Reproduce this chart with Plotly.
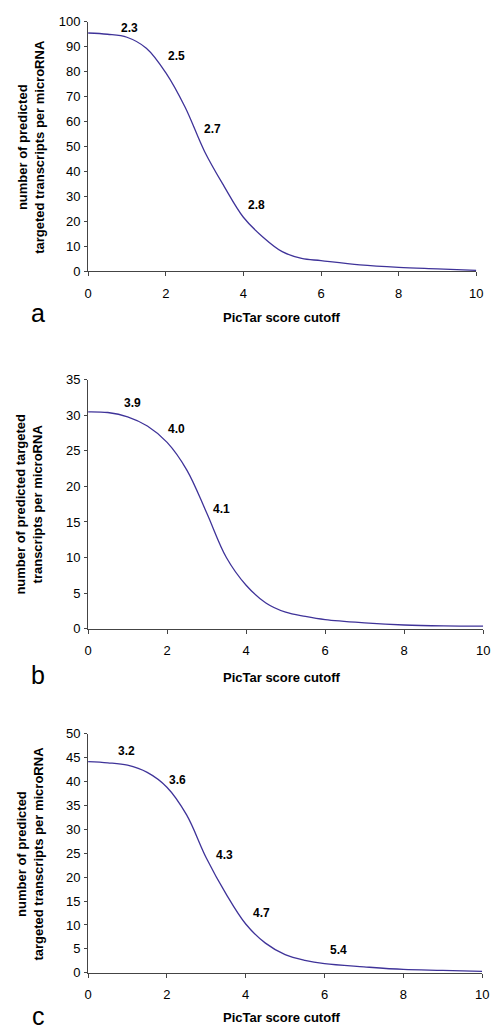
import plotly.graph_objects as go

W, H = 497, 1034

# ---- data ----
x_cut = [0, 0.5, 1, 1.5, 2, 2.5, 3, 3.5, 4, 4.5, 5, 5.5, 6, 7, 8, 9, 10]
y_a = [95.5, 95.0, 93.8, 89.4, 79.6, 65.7, 48.0, 34.1, 21.6, 13.7, 7.8, 5.1, 4.2, 2.5, 1.5, 0.9, 0.3]
y_b = [30.5, 30.4, 29.8, 28.5, 26.2, 22.3, 16.3, 10.0, 6.1, 3.6, 2.3, 1.7, 1.25, 0.8, 0.5, 0.37, 0.33]
y_c = [44.15, 43.9, 43.4, 41.9, 38.8, 33.0, 24.0, 16.5, 10.2, 6.2, 3.8, 2.6, 1.9, 1.24, 0.7, 0.5, 0.28]

lab_a_text = ["2.3", "2.5", "2.7", "2.8"]
lab_a_x = [1.06, 2.29, 3.2, 4.33]
lab_a_y = [97.6, 86.2, 56.9, 26.5]

lab_b_text = ["3.9", "4.0", "4.1"]
lab_b_x = [1.13, 2.24, 3.38]
lab_b_y = [31.8, 28.1, 16.8]

lab_c_text = ["3.2", "3.6", "4.3", "4.7", "5.4"]
lab_c_x = [0.98, 2.28, 3.46, 4.41, 6.35]
lab_c_y = [46.4, 40.4, 24.6, 12.4, 4.7]

y_title_a = "number of predicted<br>targeted transcripts per microRNA"
y_title_b = "number of predicted targeted<br>transcripts per microRNA"
y_title_c = "number of predicted<br>targeted transcripts per microRNA"
x_title = "PicTar score cutoff"
panel_letters = ["a", "b", "c"]

FONT = "Liberation Sans, Arial, sans-serif"
LINE_COLOR = "#3f3399"
AXIS_COLOR = "#444444"

# pixel layout of plotting areas: (x0, x1, ytop, ybottom)
panels = [
    dict(box=(86, 483, 15, 268), y=y_a, yr=[0, 100], dt=10,
         lt=lab_a_text, lx=lab_a_x, ly=lab_a_y, yt=y_title_a, ytx=28,
         xtitle_y=315, letter_y=311, letter=panel_letters[0]),
    dict(box=(86, 490, 378.3, 630.7), y=y_b, yr=[0, 35], dt=5,
         lt=lab_b_text, lx=lab_b_x, ly=lab_b_y, yt=y_title_b, ytx=26,
         xtitle_y=680, letter_y=678, letter=panel_letters[1]),
    dict(box=(86, 489, 737.3, 980), y=y_c, yr=[0, 50], dt=5,
         lt=lab_c_text, lx=lab_c_x, ly=lab_c_y, yt=y_title_c, ytx=27,
         xtitle_y=1025, letter_y=1024, letter=panel_letters[2]),
]

fig = go.Figure()
annotations = []
for i, p in enumerate(panels):
    n = "" if i == 0 else str(i + 1)
    x0, x1, yt, yb = p["box"]
    xa = "x" + n
    ya = "y" + n
    fig.add_trace(go.Scatter(x=x_cut, y=p["y"], mode="lines",
                             line=dict(color=LINE_COLOR, width=1.3, shape="spline", smoothing=1.0),
                             xaxis=xa, yaxis=ya, showlegend=False, hoverinfo="skip"))
    axis_common = dict(showline=True, linecolor=AXIS_COLOR, linewidth=1, ticks="outside",
                       ticklen=4, tickcolor=AXIS_COLOR, showgrid=False, zeroline=False,
                       tickfont=dict(family=FONT, size=13, color="black"), fixedrange=True)
    fig.layout["xaxis" + n] = dict(axis_common, domain=[x0 / W, x1 / W], range=[0, 10],
                                   dtick=2, tick0=0, anchor=ya, ticklabelstandoff=6)
    fig.layout["yaxis" + n] = dict(axis_common, domain=[1 - yb / H, 1 - yt / H], range=p["yr"],
                                   dtick=p["dt"], tick0=0, anchor=xa, ticklen=3, ticklabelstandoff=1)
    for t, lx, ly in zip(p["lt"], p["lx"], p["ly"]):
        annotations.append(dict(x=lx, y=ly, xref=xa, yref=ya, text="<b>%s</b>" % t, showarrow=False,
                                xanchor="center", yanchor="middle",
                                font=dict(family=FONT, size=12, color="black")))
    annotations.append(dict(x=p["ytx"] / W, y=1 - (yt + yb) / 2 / H, xref="paper", yref="paper",
                            text="<b>%s</b>" % p["yt"], textangle=-90, showarrow=False,
                            xanchor="center", yanchor="middle",
                            font=dict(family=FONT, size=13, color="black"), align="center"))
    annotations.append(dict(x=284 / W, y=1 - p["xtitle_y"] / H, xref="paper", yref="paper",
                            text="<b>%s</b>" % x_title, showarrow=False,
                            xanchor="center", yanchor="middle",
                            font=dict(family=FONT, size=13, color="black")))
    annotations.append(dict(x=35 / W, y=1 - p["letter_y"] / H, xref="paper", yref="paper",
                            text=p["letter"], showarrow=False,
                            xanchor="center", yanchor="middle",
                            font=dict(family=FONT, size=25, color="black")))

fig.update_layout(width=W, height=H, margin=dict(l=0, r=0, t=0, b=0),
                  paper_bgcolor="white", plot_bgcolor="white", annotations=annotations,
                  font=dict(family=FONT))
fig.write_html("out.html")
